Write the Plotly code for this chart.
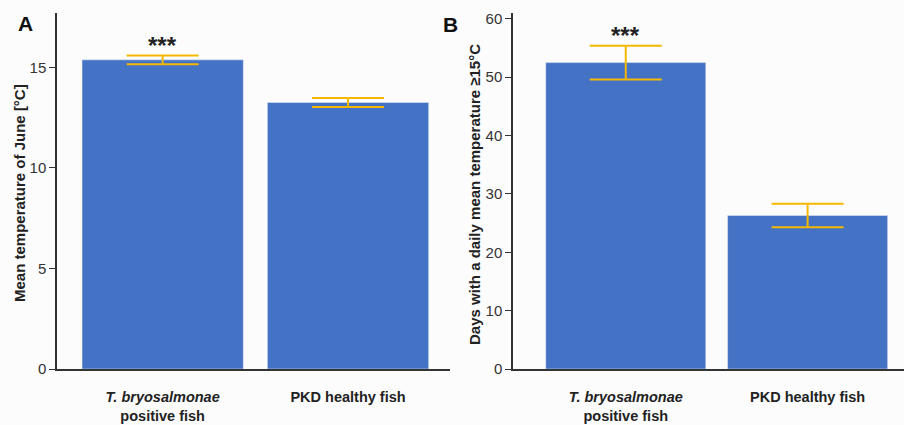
import plotly.graph_objects as go
from plotly.subplots import make_subplots

categories = ["<b><i>T. bryosalmonae</i></b><br><b>positive fish</b>", "<b>PKD healthy fish</b>"]
june_mean = [15.37, 13.25]
june_err = [0.22, 0.22]
days_mean = [52.5, 26.3]
days_err = [2.9, 2.0]
sig_labels = ["***", ""]
ytitle_a = "Mean temperature of June [°C]"
ytitle_b = "Days with a daily mean temperature ≥15°C"

bar_color = "#4472c4"
err_color = "#f5b800"
axis_color = "#333333"
bg = "#fcfcfd"

W, H = 904, 425
ml, mt, mb, mr = 0, 13, 56, 0
pw, ph = W - ml - mr, H - mt - mb

def fx(px):
    return (px - ml) / pw

def fy(py):
    return (H - mb - py) / ph

fig = make_subplots(rows=1, cols=2)

fig.add_trace(go.Bar(x=categories, y=june_mean, marker_color=bar_color, width=0.87,
                     error_y=dict(type="data", array=june_err, color=err_color, thickness=2, width=36)),
              row=1, col=1)
fig.add_trace(go.Bar(x=categories, y=days_mean, marker_color=bar_color, width=0.88,
                     error_y=dict(type="data", array=days_err, color=err_color, thickness=2, width=36)),
              row=1, col=2)

# significance stars
fig.add_annotation(x=categories[0], y=june_mean[0] + june_err[0], text="<b>" + sig_labels[0] + "</b>",
                   xref="x", yref="y", showarrow=False, yshift=10, font=dict(size=24, color="#222"))
fig.add_annotation(x=categories[0], y=days_mean[0] + days_err[0], text="<b>" + sig_labels[0] + "</b>",
                   xref="x2", yref="y2", showarrow=False, yshift=10, font=dict(size=24, color="#222"))

# panel labels
fig.add_annotation(x=fx(25.5), y=fy(23.5), xref="paper", yref="paper", text="<b>A</b>", showarrow=False,
                   yanchor="middle", xanchor="center", font=dict(size=21, color="#111"))
fig.add_annotation(x=fx(450), y=fy(24.5), xref="paper", yref="paper", text="<b>B</b>", showarrow=False,
                   yanchor="middle", xanchor="center", font=dict(size=21, color="#111"))

# y-axis titles
fig.add_annotation(x=fx(19), y=fy(193), xref="paper", yref="paper", text="<b>" + ytitle_a + "</b>",
                   showarrow=False, textangle=-90, xanchor="center", yanchor="middle",
                   font=dict(size=15, color="#222"))
fig.add_annotation(x=fx(474), y=fy(195), xref="paper", yref="paper", text="<b>" + ytitle_b + "</b>",
                   showarrow=False, textangle=-90, xanchor="center", yanchor="middle",
                   font=dict(size=15, color="#222"))

common_y = dict(showline=True, linecolor=axis_color, linewidth=1.5, ticks="outside", ticklen=6,
                tickcolor=axis_color, tickwidth=1, showgrid=False, zeroline=False,
                tickfont=dict(size=15, color="#333"), automargin=False)
common_x = dict(showline=True, linecolor=axis_color, linewidth=1.5, ticks="", showgrid=False,
                tickfont=dict(size=14.5, color="#222"), ticklabelstandoff=14, automargin=False)

fig.update_xaxes(domain=[fx(57), fx(450)], range=[-0.57, 1.55], **common_x, row=1, col=1)
fig.update_xaxes(domain=[fx(513), fx(904)], range=[-0.62, 1.53], **common_x, row=1, col=2)
fig.update_yaxes(range=[0, 17.7], tickvals=[0, 5, 10, 15], **common_y, row=1, col=1)
fig.update_yaxes(range=[0, 61], tickvals=[0, 10, 20, 30, 40, 50, 60], **common_y, row=1, col=2)

fig.update_layout(width=W, height=H, margin=dict(l=ml, r=mr, t=mt, b=mb),
                  paper_bgcolor=bg, plot_bgcolor=bg, showlegend=False, bargap=0.13,
                  font=dict(family="Liberation Sans, Arial, sans-serif"))

fig.write_html("out.html")
